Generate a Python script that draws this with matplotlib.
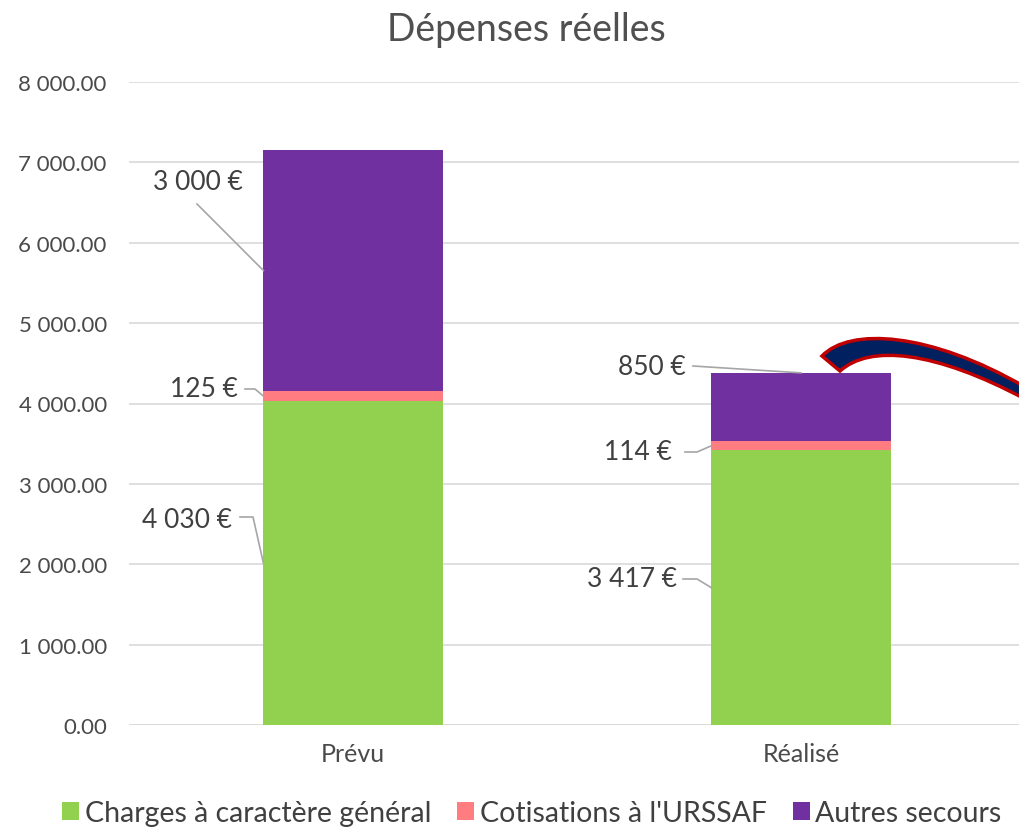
import matplotlib
matplotlib.use("Agg")
import numpy as np
from matplotlib import pyplot as plt
from matplotlib.path import Path
from matplotlib.patches import PathPatch

# data
categories = ["Prévu", "Réalisé"]
series = ["Charges à caractère général", "Cotisations à l'URSSAF", "Autres secours"]
charges = [4030, 3417]
urssaf = [125, 114]
autres = [3000, 850]
colors = ["#92D050", "#FF7C80", "#7030A0"]

plt.rcParams['font.family'] = ['Lato', 'DejaVu Sans']
txt = "#404040"

fig = plt.figure(figsize=(10.2, 8.28), dpi=100)
ax = fig.add_axes([129 / 1020, 1 - 726 / 828, 896 / 1020, 643 / 828])

x = np.arange(len(categories))
w = 0.40
bottom = np.zeros(len(categories))
for name, vals, c in zip(series, [charges, urssaf, autres], colors):
    ax.bar(x, vals, w, bottom=bottom, color=c, label=name, zorder=3)
    bottom += np.array(vals)

ax.set_xlim(-0.5, 1.5)
ax.set_ylim(0, 8000)
ax.set_yticks(np.arange(0, 8001, 1000))
ax.set_yticklabels([f"{v:,.2f}".replace(",", " ") for v in np.arange(0, 8001, 1000)])
ax.set_xticks(x)
ax.set_xticklabels(categories)
ax.tick_params(axis='y', length=0, labelsize=16, labelcolor="#4a4a4a", pad=16)
ax.tick_params(axis='x', length=0, labelsize=18, labelcolor="#4a4a4a", pad=12)
ax.grid(axis='y', color="#D9D9D9", lw=1.2, zorder=0)
for s in ax.spines.values():
    s.set_visible(False)
ax.axhline(0, color="#D9D9D9", lw=1.2, zorder=1)

# data labels with leader lines (offsets in pixels: text anchor, stub end)
def px_to_data(px, py):
    return ax.transData.inverted().transform(fig.transFigure.transform((px / 1020, 1 - py / 828)))

fig.canvas.draw()
label_specs = [
    # (cat, series index, text px, ha, leader pts px, target mode)
    (0, 2, (198, 183), 'center', [(197, 205)], 'mid'),
    (0, 1, (238, 390), 'right', [(245, 390), (255, 390)], 'mid'),
    (0, 0, (232, 521), 'right', [(240, 518), (253, 518)], 'mid'),
    (1, 2, (686, 368), 'right', [(693, 367)], 'top'),
    (1, 1, (672, 453), 'right', [(685, 453), (697, 453)], 'mid'),
    (1, 0, (677, 580), 'right', [(683, 580), (697, 580)], 'mid'),
]
stack = np.array([charges, urssaf, autres])
for ci, si, tp, ha, pts, mode in label_specs:
    base = stack[:si, ci].sum()
    val = stack[si, ci]
    if mode == 'mid':
        target = (x[ci] - w / 2, base + val / 2)
    else:
        target = (x[ci], base + val)
    tx, ty = px_to_data(*tp)
    ax.text(tx, ty, f"{val:,}".replace(",", " ") + " €", ha=ha, va='center',
            fontsize=19, color=txt, zorder=5)
    lp = [px_to_data(*p) for p in pts] + [target]
    ax.plot([p[0] for p in lp], [p[1] for p in lp], color="#A6A6A6", lw=1.2, zorder=4,
            clip_on=False)

fig.text(526 / 1020, 1 - 30 / 828, "Dépenses réelles", ha='center', va='center',
         fontsize=27, color="#505050")

fig.legend(loc='center', bbox_to_anchor=(532 / 1020, 1 - 814 / 828), ncol=3, frameon=False,
           fontsize=20.5, handlelength=0.6, handleheight=0.6, handletextpad=0.2,
           columnspacing=0.9, labelcolor=txt)

# decorative curved swoosh (figure pixel coords)
def fp(px, py):
    return (px / 1020, 1 - py / 828)

verts = [fp(822, 357), fp(850, 328), fp(930, 333), fp(1025, 388),
         fp(1025, 400), fp(935, 352), fp(870, 345), fp(840, 372), fp(822, 357)]
codes = [Path.MOVETO, Path.CURVE4, Path.CURVE4, Path.CURVE4,
         Path.LINETO, Path.CURVE4, Path.CURVE4, Path.CURVE4, Path.CLOSEPOLY]
fig.patches.append(PathPatch(Path(verts, codes), facecolor="#002060", edgecolor="#C00000",
                             lw=2.5, transform=fig.transFigure, figure=fig, zorder=10))

fig.savefig("out.png", dpi=100)
